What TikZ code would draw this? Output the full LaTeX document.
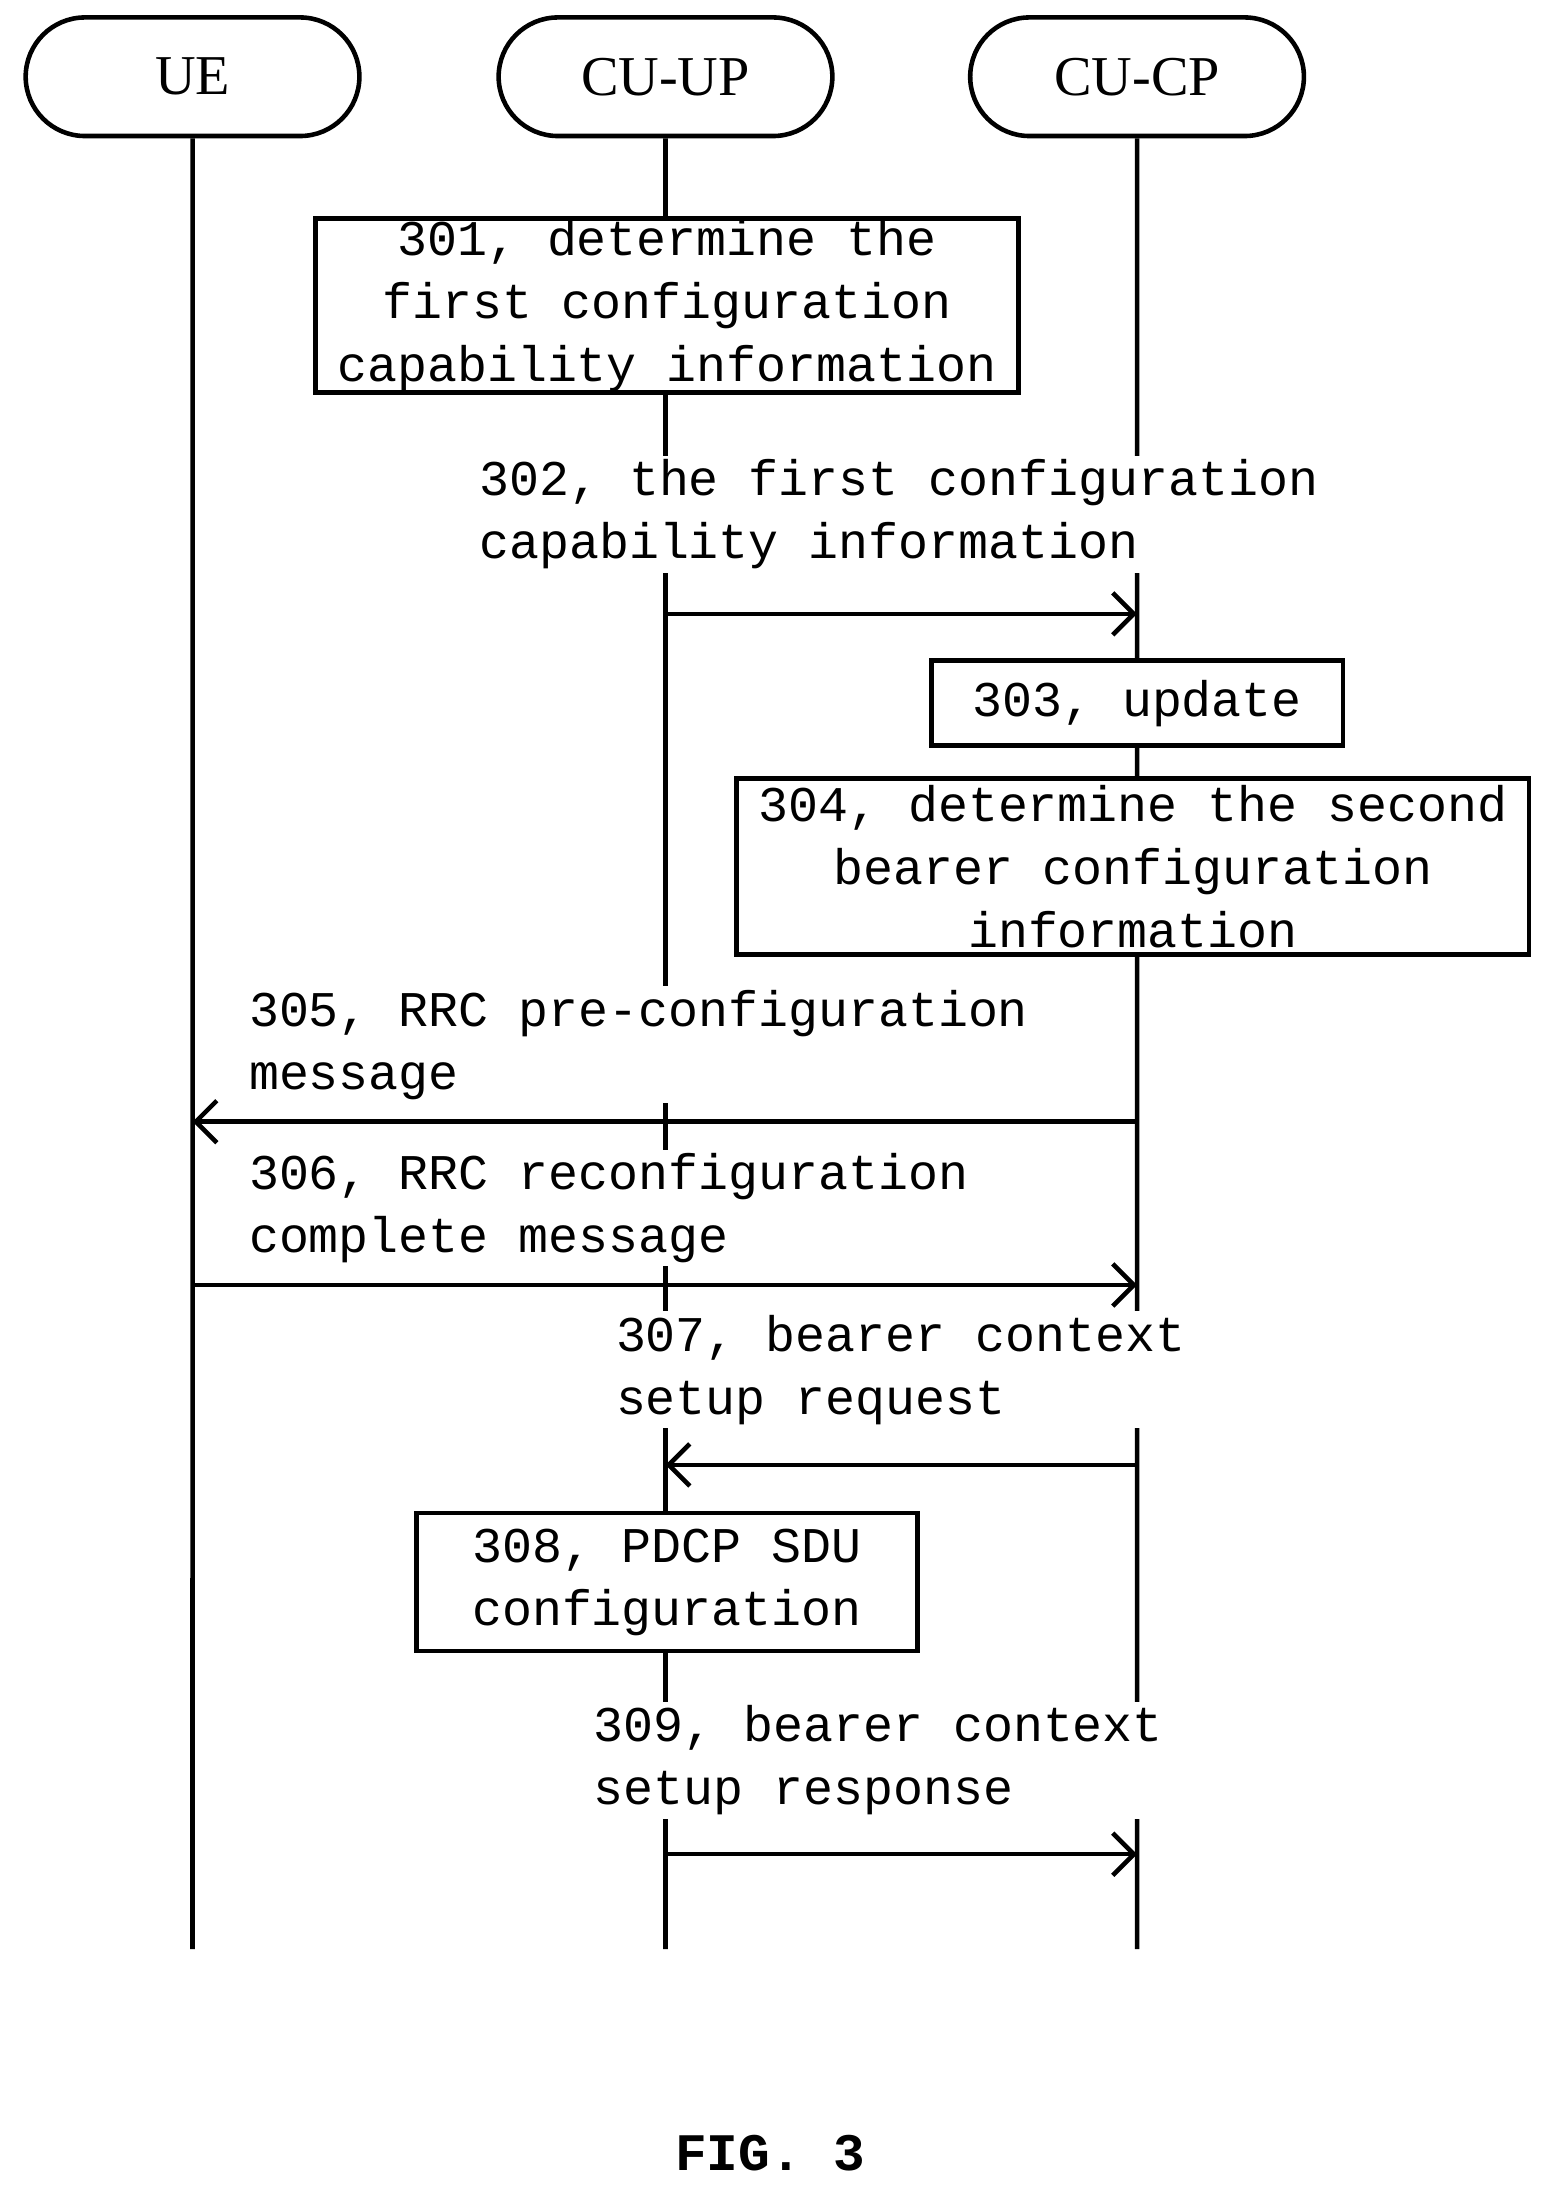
\documentclass[tikz,border=0pt]{standalone}
\usepackage{fontspec}
\setmainfont{Liberation Mono}
\newfontfamily\headfont{Liberation Serif}
\usetikzlibrary{shapes.misc,arrows.meta}
\begin{document}
\begin{tikzpicture}[
            x = 0.01395cm, y = -0.01395cm,
            > = {Straight Barb[length=6pt,width=12pt]},
            thick
        ]

        \tikzset{
            party/.style = {draw, line width=1.3pt, rounded rectangle, minimum width=256*0.01395cm,
                minimum height=85*0.01395cm, font=\headfont\fontsize{16}{20}\selectfont},
            action/.style = {draw, line width=1.3pt, fill=white, align=center,
                font=\fontsize{14.2}{17.9}\selectfont, inner sep=0pt},
            msg/.style = {fill=white, align=left, anchor=north west, inner sep=1pt,
                font=\fontsize{14.2}{17.9}\selectfont},
            life/.style = {line width=1.3pt},
            call/.style = {line width=1.3pt, ->}
        }

        \useasboundingbox (0,0) rectangle (1110,1569);

        % parties
        \node[party] (ue) at (138,55) {UE};
        \node[party] (up) at (477,55) {CU-UP};
        \node[party] (cp) at (815,55) {CU-CP};

        \coordinate (ueend) at (138,1397);
        \coordinate (upend) at (477,1397);
        \coordinate (cpend) at (815,1397);
        \draw[life] (ue) -- (ueend);
        \draw[life] (up) -- (upend);
        \draw[life] (cp) -- (cpend);

        % steps
        \node[action, minimum width=504*0.01395cm, minimum height=125*0.01395cm] (s301) at (478,219)
            {301, determine the\\first configuration\\capability information};
        \node[msg] (m302) at (340,326) {302, the first configuration\\capability information};
        \coordinate (a302) at (477,440);
        \coordinate (b302) at (815,440);
        \draw[call] (a302) -- (b302);

        \node[action, minimum width=295*0.01395cm, minimum height=61*0.01395cm] (s303) at (815,504)
            {303, update};
        \node[action, minimum width=568*0.01395cm, minimum height=126*0.01395cm] (s304) at (812,621)
            {304, determine the second\\bearer configuration\\information};

        \node[msg] (m305) at (175,706) {305, RRC pre-configuration\\message};
        \coordinate (a305) at (815,804);
        \coordinate (b305) at (138,804);
        \draw[call] (a305) -- (b305);

        \node[msg] (m306) at (175,823) {306, RRC reconfiguration\\complete message};
        \coordinate (a306) at (138,921);
        \coordinate (b306) at (815,921);
        \draw[call] (a306) -- (b306);

        \node[msg] (m307) at (438,939) {307, bearer context\\setup request};
        \coordinate (a307) at (815,1050);
        \coordinate (b307) at (477,1050);
        \draw[call] (a307) -- (b307);

        \node[action, minimum width=359*0.01395cm, minimum height=99*0.01395cm] (s308) at (478,1134)
            {308, PDCP SDU\\configuration};

        \node[msg] (m309) at (422,1219) {309, bearer context\\setup response};
        \coordinate (a309) at (477,1329);
        \coordinate (b309) at (815,1329);
        \draw[call] (a309) -- (b309);

        \node[font=\bfseries\fontsize{15}{18}\selectfont] (fig) at (552,1543) {FIG. 3};
    \end{tikzpicture}
\end{document}
